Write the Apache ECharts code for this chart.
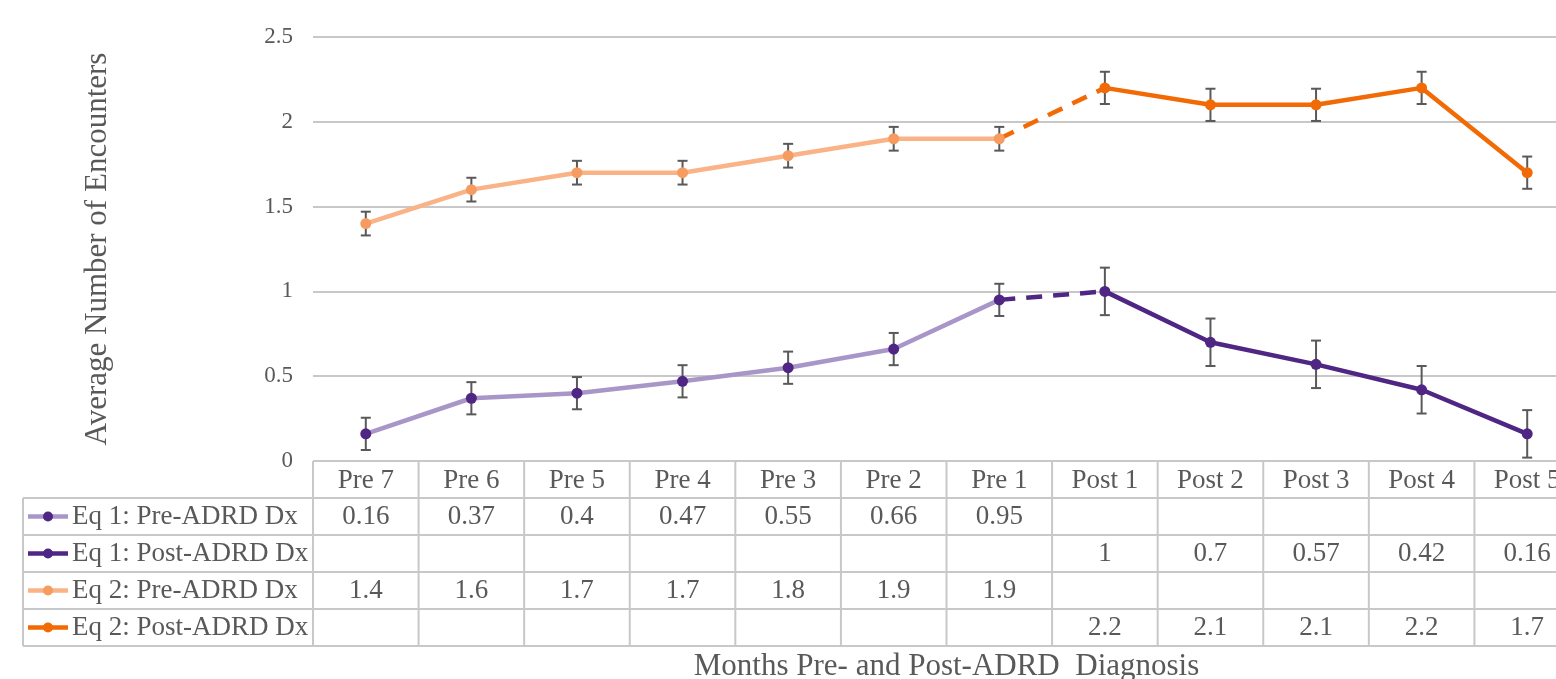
<!DOCTYPE html>
<html>
<head>
<meta charset="utf-8">
<script src="https://cdn.jsdelivr.net/npm/echarts@6/dist/echarts.min.js"></script>
<style>
  html, body { margin: 0; padding: 0; background: #fff; overflow: hidden; }
  #chart { width: 1556px; height: 679px; }
</style>
</head>
<body>
<div id="chart"></div>
<script>
// data
const categories = ['Pre 7', 'Pre 6', 'Pre 5', 'Pre 4', 'Pre 3', 'Pre 2', 'Pre 1', 'Post 1', 'Post 2', 'Post 3', 'Post 4', 'Post 5'];
const eq1Pre  = [0.16, 0.37, 0.4, 0.47, 0.55, 0.66, 0.95, null, null, null, null, null];
const eq1Post = [null, null, null, null, null, null, null, 1, 0.7, 0.57, 0.42, 0.16];
const eq2Pre  = [1.4, 1.6, 1.7, 1.7, 1.8, 1.9, 1.9, null, null, null, null, null];
const eq2Post = [null, null, null, null, null, null, null, 2.2, 2.1, 2.1, 2.2, 1.7];
// error bar half widths (estimated)
const eq1PreErr  = [0.095, 0.095, 0.095, 0.095, 0.095, 0.095, 0.095, null, null, null, null, null];
const eq1PostErr = [null, null, null, null, null, null, null, 0.14, 0.14, 0.14, 0.14, 0.14];
const eq2PreErr  = [0.07, 0.07, 0.07, 0.07, 0.07, 0.07, 0.07, null, null, null, null, null];
const eq2PostErr = [null, null, null, null, null, null, null, 0.095, 0.095, 0.095, 0.095, 0.095];
const yTicks = [0, 0.5, 1, 1.5, 2, 2.5];

const rows = [
  { name: 'Eq 1: Pre-ADRD Dx',  values: eq1Pre,  line: '#a996c9', dot: '#4f2683' },
  { name: 'Eq 1: Post-ADRD Dx', values: eq1Post, line: '#4f2683', dot: '#4f2683' },
  { name: 'Eq 2: Pre-ADRD Dx',  values: eq2Pre,  line: '#f9b387', dot: '#f79c60' },
  { name: 'Eq 2: Post-ADRD Dx', values: eq2Post, line: '#f26a05', dot: '#f26a05' }
];
const FONT = 'Liberation Serif';
const TXT = '#595959';
const BORDER = '#c8c8c8';

// dashed links between last pre point and first post point
function link(pre, post) {
  return categories.map((c, i) => {
    if (pre[i] != null && pre[i + 1] == null) return pre[i];
    if (post[i] != null && post[i - 1] == null) return post[i];
    return null;
  });
}
const errData = [];
[[eq1Pre, eq1PreErr], [eq1Post, eq1PostErr], [eq2Pre, eq2PreErr], [eq2Post, eq2PostErr]].forEach(([v, e]) => {
  v.forEach((y, i) => { if (y != null) errData.push([i, y - e[i], y + e[i]]); });
});

function lineSeries(r, z) {
  return {
    type: 'line', name: r.name, data: r.values, z: z,
    symbol: 'circle', symbolSize: 11, connectNulls: false,
    lineStyle: { color: r.line, width: 4.5 },
    itemStyle: { color: r.dot },
    emphasis: { disabled: true }
  };
}

let chart = echarts.init(document.getElementById('chart'));
let option = {
  animation: false,
  grid: { left: 313, top: 37, height: 424, width: 1267, containLabel: false, outerBoundsMode: 'none' },
  xAxis: {
    type: 'category',
    data: categories,
    boundaryGap: true,
    axisLine: { show: false },
    axisTick: { show: false },
    axisLabel: { fontFamily: FONT, fontSize: 27, color: TXT, margin: 6, interval: 0 },
    name: 'Months Pre- and Post-ADRD  Diagnosis',
    nameLocation: 'middle',
    nameGap: 190,
    nameTextStyle: { fontFamily: FONT, fontSize: 31, color: TXT }
  },
  yAxis: {
    type: 'value',
    min: yTicks[0], max: yTicks[yTicks.length - 1], interval: 0.5,
    axisLine: { show: false },
    axisTick: { show: false },
    axisLabel: { fontFamily: FONT, fontSize: 23, color: TXT, margin: 20 },
    splitLine: { lineStyle: { color: BORDER, width: 2 } },
    name: 'Average Number of Encounters',
    nameLocation: 'middle',
    nameGap: 200,
    nameTextStyle: { fontFamily: FONT, fontSize: 31, color: TXT }
  },
  series: [
    {
      type: 'custom', z: 1,
      data: errData,
      renderItem: function (params, api) {
        let top = api.coord([api.value(0), api.value(2)]);
        let bot = api.coord([api.value(0), api.value(1)]);
        let s = { stroke: '#595959', lineWidth: 2 };
        return {
          type: 'group',
          children: [
            { type: 'line', shape: { x1: top[0], y1: top[1], x2: bot[0], y2: bot[1] }, style: s },
            { type: 'line', shape: { x1: top[0] - 5, y1: top[1], x2: top[0] + 5, y2: top[1] }, style: s },
            { type: 'line', shape: { x1: bot[0] - 5, y1: bot[1], x2: bot[0] + 5, y2: bot[1] }, style: s }
          ]
        };
      }
    },
    {
      type: 'line', data: link(eq1Pre, eq1Post), showSymbol: false, z: 2,
      lineStyle: { color: '#4f2683', width: 4.5, type: [16, 11] }
    },
    {
      type: 'line', data: link(eq2Pre, eq2Post), showSymbol: false, z: 2,
      lineStyle: { color: '#f26a05', width: 4.5, type: [16, 11] }
    },
    lineSeries(rows[0], 3),
    lineSeries(rows[1], 3),
    lineSeries(rows[2], 3),
    lineSeries(rows[3], 3)
  ]
};
chart.setOption(option);

// data table under the plot, laid out from the category axis
function drawTable() {
  let xs = categories.map((c, i) => chart.convertToPixel({ xAxisIndex: 0 }, i));
  let half = (xs[1] - xs[0]) / 2;
  let y0 = chart.convertToPixel({ yAxisIndex: 0 }, 0);
  let rowH = 37;
  let left = 23;
  let right = xs[xs.length - 1] + half;
  let g = [];
  let ln = (x1, y1, x2, y2) => g.push({
    type: 'line', silent: true,
    shape: { x1: x1, y1: y1, x2: x2, y2: y2 },
    style: { stroke: BORDER, lineWidth: 2 }
  });
  ln(xs[0] - half, y0, right, y0);
  for (let r = 1; r <= rows.length + 1; r++) ln(left, y0 + r * rowH, right, y0 + r * rowH);
  ln(left, y0 + rowH, left, y0 + (rows.length + 1) * rowH);
  xs.forEach(x => ln(x - half, y0, x - half, y0 + (rows.length + 1) * rowH));
  ln(right, y0, right, y0 + (rows.length + 1) * rowH);

  rows.forEach((r, k) => {
    let cy = y0 + (k + 1.5) * rowH;
    g.push({ type: 'line', silent: true, shape: { x1: 28, y1: cy, x2: 68, y2: cy },
      style: { stroke: r.line, lineWidth: 4.5 } });
    g.push({ type: 'circle', silent: true, shape: { cx: 48, cy: cy, r: 5 }, style: { fill: r.dot } });
    g.push({ type: 'text', silent: true, x: 72, y: cy,
      style: { text: r.name, font: '27px "' + FONT + '"', fill: TXT, verticalAlign: 'middle', align: 'left' } });
    r.values.forEach((v, i) => {
      if (v == null) return;
      g.push({ type: 'text', silent: true, x: xs[i], y: cy,
        style: { text: String(v), font: '27px "' + FONT + '"', fill: TXT, verticalAlign: 'middle', align: 'center' } });
    });
  });
  chart.setOption({ graphic: g });
}
drawTable();
</script>
</body>
</html>
